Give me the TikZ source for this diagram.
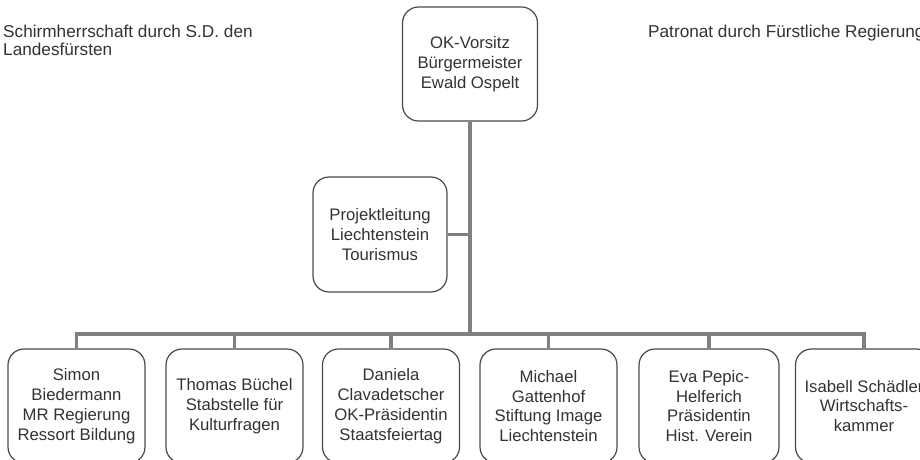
\documentclass[tikz,border=0pt]{standalone}
\usepackage{fontspec}
\setmainfont{Liberation Sans}
\definecolor{txt}{HTML}{333333}
\definecolor{edge}{HTML}{4A4A4A}
\definecolor{conn}{HTML}{808080}
\begin{document}
\begin{tikzpicture}[x=1pt,y=-1pt,
  box/.style={draw=edge,line width=1.2pt,rounded corners=16pt,fill=white,
    minimum width=135pt,minimum height=114pt,inner sep=0pt,align=center,
    text=txt,font=\fontsize{16.7}{19.8}\selectfont},
  hdr/.style={inner sep=0pt,align=left,text=txt,font=\fontsize{17.2}{18.8}\selectfont},
  connector/.style={draw=conn,line width=3.7pt}]
\useasboundingbox (0,0) rectangle (920,459);
\clip (0,0) rectangle (920,459);
\fill[white] (0,0) rectangle (920,459);
\coordinate (bus) at (470,334);
\node[box] (top) at (470,64) {OK-Vorsitz\\Bürgermeister\\Ewald Ospelt};
\node[box,minimum width=134pt,minimum height=115pt] (proj) at (380,234.5) {Projektleitung\\Liechtenstein\\Tourismus};
\node[box,minimum width=137pt] (b1) at (76.5,406) {Simon\\Biedermann\\MR Regierung\\Ressort Bildung};
\node[box,minimum width=137pt] (b2) at (234.5,406) {Thomas Büchel\\Stabstelle für\\Kulturfragen};
\node[box,minimum width=137pt] (b3) at (391,406) {Daniela\\Clavadetscher\\OK-Präsidentin\\Staatsfeiertag};
\node[box,minimum width=137pt] (b4) at (548.5,406) {Michael\\Gattenhof\\Stiftung Image\\Liechtenstein};
\node[box,minimum width=140pt] (b5) at (709,406) {Eva Pepic-\\Helferich\\Präsidentin\\Hist. Verein};
\node[box,minimum width=137pt] (b6) at (864,406) {Isabell Schädler\\Wirtschafts-\\kammer};
\node[hdr,anchor=north west] (h1) at (3,24.5) {Schirmherrschaft durch S.D. den\\Landesfürsten};
\node[hdr,anchor=base west] (h2) at (648,37) {Patronat durch Fürstliche Regierung};
\draw[connector] (top.south) -- (bus);
\draw[connector] (proj.east) -- (proj.east -| bus);
\draw[connector] (b1.north) -- (b1.north |- bus) -- (b6.north |- bus) -- (b6.north);
\foreach \b in {b2,b3,b4,b5} \draw[connector] (\b.north) -- (\b.north |- bus);
\end{tikzpicture}
\end{document}
